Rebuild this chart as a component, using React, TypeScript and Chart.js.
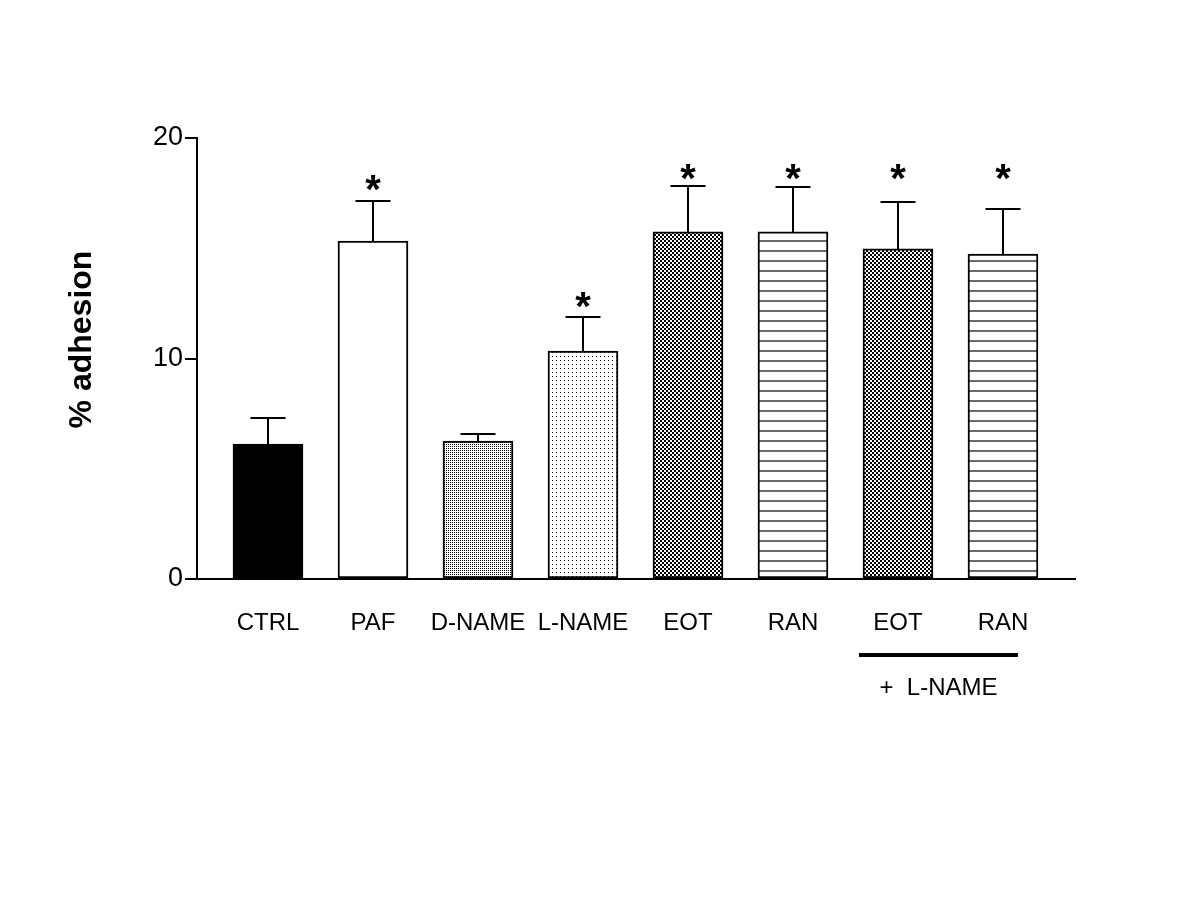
import React, { useEffect, useRef } from 'react';
import { Chart, registerables } from 'chart.js';

Chart.register(...registerables);

// ---- data ----
const categories = ['CTRL', 'PAF', 'D-NAME', 'L-NAME', 'EOT', 'RAN', 'EOT', 'RAN'];
const means = [6.12, 15.33, 6.26, 10.34, 15.74, 15.74, 14.97, 14.74];
const errors = [1.18, 1.81, 0.32, 1.54, 2.08, 2.04, 2.13, 2.04];
const starLevels: (number | null)[] = [null, 18.1, null, 12.8, 18.6, 18.6, 18.6, 18.6];
const yTicks = [0, 10, 20];
const fills = ['solid', 'white', 'denseDots', 'sparseDots', 'checker', 'hlines', 'checker', 'hlines'];
const yTitle = '% adhesion';
const groupLabel = '+  L-NAME';
const groupRange = [6, 7];

const FONT = '"Liberation Sans", Arial, Helvetica, sans-serif';

function makePattern(kind: string): CanvasPattern | string {
  if (kind === 'solid') return '#000000';
  if (kind === 'white') return '#ffffff';
  const c = document.createElement('canvas');
  const g = c.getContext('2d')!;
  if (kind === 'denseDots') {
    c.width = 2; c.height = 2;
    g.fillStyle = '#fff'; g.fillRect(0, 0, 2, 2);
    g.fillStyle = '#000'; g.fillRect(0, 0, 1, 1);
  } else if (kind === 'sparseDots') {
    c.width = 4; c.height = 4;
    g.fillStyle = '#fff'; g.fillRect(0, 0, 4, 4);
    g.fillStyle = '#000'; g.fillRect(0, 0, 1, 1);
  } else if (kind === 'checker') {
    c.width = 4; c.height = 4;
    g.fillStyle = '#fff'; g.fillRect(0, 0, 4, 4);
    g.fillStyle = '#000'; g.fillRect(0, 0, 2, 2); g.fillRect(2, 2, 2, 2);
  } else if (kind === 'hlines') {
    c.width = 4; c.height = 10;
    g.fillStyle = '#fff'; g.fillRect(0, 0, 4, 10);
    g.fillStyle = '#6a6a6a'; g.fillRect(0, 0, 4, 2);
  }
  return g.createPattern(c, 'repeat')!;
}

const overlay = {
  id: 'overlay',
  afterDatasetsDraw(chart: any) {
    const ctx = chart.ctx as CanvasRenderingContext2D;
    const meta = chart.getDatasetMeta(0);
    const ys = chart.scales.y;
    const xs = chart.scales.x;
    ctx.save();
    ctx.strokeStyle = '#000';
    ctx.fillStyle = '#000';
    ctx.lineWidth = 2;
    meta.data.forEach((bar: any, i: number) => {
      const x = Math.round(bar.x);
      const top = ys.getPixelForValue(means[i]);
      const et = ys.getPixelForValue(means[i] + errors[i]);
      ctx.beginPath();
      ctx.moveTo(x, top);
      ctx.lineTo(x, et);
      ctx.moveTo(x - 17.5, et);
      ctx.lineTo(x + 17.5, et);
      ctx.stroke();
      const s = starLevels[i];
      if (s != null) {
        const size = 40;
        ctx.font = `bold ${size}px ${FONT}`;
        ctx.textAlign = 'center';
        ctx.textBaseline = 'alphabetic';
        ctx.fillText('*', x, ys.getPixelForValue(s) + 0.57 * size);
      }
    });
    // group line
    const gx0 = xs.getPixelForValue(groupRange[0]) - 39;
    const gx1 = xs.getPixelForValue(groupRange[1]) + 15;
    const gy = ys.bottom + 76;
    ctx.lineWidth = 4;
    ctx.beginPath();
    ctx.moveTo(gx0, gy);
    ctx.lineTo(gx1, gy);
    ctx.stroke();
    ctx.font = `24px ${FONT}`;
    ctx.textAlign = 'center';
    ctx.textBaseline = 'middle';
    ctx.fillText(groupLabel, (gx0 + gx1) / 2, gy + 33);
    // y title
    ctx.save();
    ctx.translate(82, (ys.top + ys.bottom) / 2 - 19);
    ctx.rotate(-Math.PI / 2);
    ctx.font = `bold 32px ${FONT}`;
    ctx.textAlign = 'center';
    ctx.textBaseline = 'middle';
    ctx.fillText(yTitle, 0, 0);
    ctx.restore();
    ctx.restore();
  },
};

export default function App() {
  const ref = useRef<HTMLCanvasElement>(null);
  useEffect(() => {
    if (!ref.current) return;
    Chart.defaults.color = '#000';
    const chart = new Chart(ref.current, {
      type: 'bar',
      data: {
        datasets: [
          {
            data: means.map((v, i) => ({ x: i, y: v })),
            backgroundColor: fills.map(makePattern) as any,
            borderColor: '#000',
            borderWidth: 2,
            borderSkipped: false,
            barThickness: 70,
          },
        ],
      },
      options: {
        responsive: false,
        animation: false,
        devicePixelRatio: 1,
        layout: { padding: { left: 0, top: 138, right: 125, bottom: 261 } },
        plugins: { legend: { display: false }, tooltip: { enabled: false } },
        scales: {
          x: {
            type: 'linear',
            offset: false,
            min: -0.676,
            max: 7.686,
            grid: { display: false, drawTicks: false, offset: false },
            border: { display: true, color: '#000', width: 2 },
            afterBuildTicks: (s: any) => {
              s.ticks = categories.map((_, i) => ({ value: i }));
            },
            afterFit: (s: any) => {
              s.height = 60;
            },
            ticks: {
              autoSkip: false,
              maxRotation: 0,
              padding: 30,
              font: { family: FONT, size: 24 },
              color: '#000',
              callback: (v: any) => categories[v as number] ?? '',
            },
          },
          y: {
            min: 0,
            max: 20,
            afterBuildTicks: (s: any) => {
              s.ticks = yTicks.map((v) => ({ value: v }));
            },
            afterFit: (s: any) => {
              s.width = 197;
            },
            grid: { drawOnChartArea: false, drawTicks: true, tickLength: 12, color: '#000', lineWidth: 2 },
            border: { display: true, color: '#000', width: 2 },
            ticks: {
              padding: 2,
              font: { family: FONT, size: 27 },
              color: '#000',
            },
          },
        },
      },
      plugins: [overlay],
    });
    return () => chart.destroy();
  }, []);
  return (
    <div style={{ position: 'absolute', left: 0, top: 0, width: 1200, height: 900, background: '#fff' }}>
      <canvas ref={ref} width={1200} height={900} />
    </div>
  );
}
